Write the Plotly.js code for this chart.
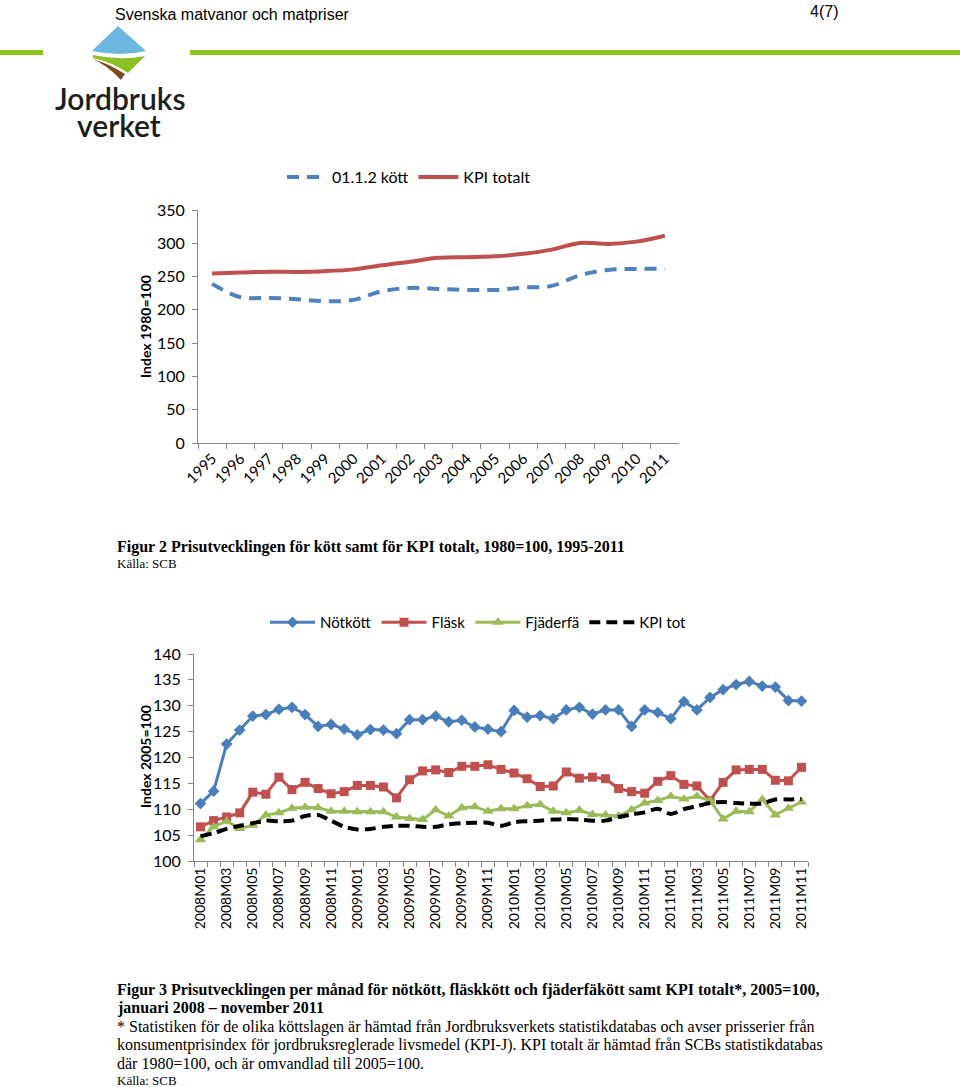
<!DOCTYPE html>
<html>
<head>
<meta charset="utf-8">
<script src="https://cdn.plot.ly/plotly-3.0.1.min.js"></script>
<style>
html,body{margin:0;padding:0;background:#fff;}
#chart{width:960px;height:1087px;}
</style>
</head>
<body>
<div id="chart"></div>
<script>
// ---------- Figure 2 data (1980=100) ----------
const years = ['1995','1996','1997','1998','1999','2000','2001','2002','2003','2004','2005','2006','2007','2008','2009','2010','2011'];
const kott = [239,219,218,216,213,215,228,233,231.5,230,230,233.5,236,252,260,261.5,261.5];
const kpiTotalt = [254.8,256.0,257.3,257.0,258.1,260.8,267.1,272.4,278.1,279.2,280.4,284.2,290.5,300.5,299.0,302.5,311.4];

// ---------- Figure 3 data (2005=100) ----------
const months = ['2008M01','2008M02','2008M03','2008M04','2008M05','2008M06','2008M07','2008M08','2008M09','2008M10','2008M11','2008M12',
 '2009M01','2009M02','2009M03','2009M04','2009M05','2009M06','2009M07','2009M08','2009M09','2009M10','2009M11','2009M12',
 '2010M01','2010M02','2010M03','2010M04','2010M05','2010M06','2010M07','2010M08','2010M09','2010M10','2010M11','2010M12',
 '2011M01','2011M02','2011M03','2011M04','2011M05','2011M06','2011M07','2011M08','2011M09','2011M10','2011M11'];
const monthTickText = ['2008M01','','2008M03','','2008M05','','2008M07','','2008M09','','2008M11','',
 '2009M01','','2009M03','','2009M05','','2009M07','','2009M09','','2009M11','',
 '2010M01','','2010M03','','2010M05','','2010M07','','2010M09','','2010M11','',
 '2011M01','','2011M03','','2011M05','','2011M07','','2011M09','','2011M11'];
const notkott = [111.1,113.5,122.6,125.3,128.0,128.3,129.3,129.7,128.3,126.0,126.4,125.5,
 124.4,125.4,125.3,124.6,127.3,127.3,128.0,126.9,127.2,125.9,125.5,125.0,
 129.1,127.8,128.1,127.5,129.2,129.7,128.4,129.2,129.2,126.0,129.2,128.7,
 127.5,130.8,129.2,131.6,133.1,134.1,134.7,133.8,133.6,131.0,130.9];
const flask = [106.6,107.8,108.5,109.3,113.3,112.9,116.2,113.8,115.2,114.0,113.0,113.4,
 114.6,114.6,114.3,112.2,115.7,117.4,117.6,117.1,118.3,118.3,118.6,117.7,
 117.0,115.9,114.4,114.5,117.2,116.0,116.2,115.9,114.0,113.4,113.1,115.4,
 116.5,114.8,114.5,111.7,115.2,117.6,117.7,117.7,115.6,115.5,118.1];
const fjaderfa = [104.1,106.6,107.7,106.3,106.9,108.9,109.3,110.2,110.4,110.3,109.6,109.6,
 109.5,109.5,109.5,108.5,108.2,108.0,109.9,108.7,110.3,110.5,109.6,110.1,
 110.1,110.7,110.9,109.6,109.3,109.8,109.0,108.9,108.7,109.9,111.2,111.7,
 112.5,112.0,112.5,111.7,108.1,109.6,109.5,111.9,108.9,110.2,111.4];
const kpiTot = [104.8,105.4,106.2,106.8,107.3,107.8,107.7,107.8,108.7,108.9,107.8,106.6,
 106.1,106.2,106.6,106.8,106.8,106.6,106.6,107.1,107.3,107.4,107.4,106.8,
 107.5,107.7,107.8,108.0,108.1,108.0,107.8,107.8,108.5,109.0,109.4,110.1,
 109.1,110.0,110.6,111.2,111.4,111.2,111.1,111.1,111.9,111.9,112.0];

// ---------- helpers: pixel -> paper ----------
const W = 960, H = 1087;
const px = x => x / W;
const py = y => 1 - y / H;
const path = s => s.replace(/(-?\d+\.?\d*),(-?\d+\.?\d*)/g, (m, a, b) => px(+a).toFixed(5) + ',' + py(+b).toFixed(5));

const sans = 'Lato, "Open Sans", sans-serif';
const serif = '"Liberation Serif", "DejaVu Serif", serif';
const axisGray = '#868686';

const traces = [
  {x: years, y: kott, name: '01.1.2 kött', type: 'scatter', mode: 'lines', xaxis: 'x', yaxis: 'y', legend: 'legend',
   line: {color: '#4F81BD', width: 4, dash: '12px,8px', shape: 'spline', smoothing: 1}},
  {x: years, y: kpiTotalt, name: 'KPI totalt', type: 'scatter', mode: 'lines', xaxis: 'x', yaxis: 'y', legend: 'legend',
   line: {color: '#C0504D', width: 4, shape: 'spline', smoothing: 1}},
  {x: months, y: notkott, name: 'Nötkött', type: 'scatter', mode: 'lines+markers', xaxis: 'x2', yaxis: 'y2', legend: 'legend2',
   line: {color: '#4A7EBB', width: 3}, marker: {symbol: 'diamond', size: 9, color: '#4A7EBB'}},
  {x: months, y: flask, name: 'Fläsk', type: 'scatter', mode: 'lines+markers', xaxis: 'x2', yaxis: 'y2', legend: 'legend2',
   line: {color: '#C0504D', width: 3}, marker: {symbol: 'square', size: 9, color: '#C0504D'}},
  {x: months, y: fjaderfa, name: 'Fjäderfä', type: 'scatter', mode: 'lines+markers', xaxis: 'x2', yaxis: 'y2', legend: 'legend2',
   line: {color: '#9BBB59', width: 3}, marker: {symbol: 'triangle-up', size: 10, color: '#9BBB59'}},
  {x: months, y: kpiTot, name: 'KPI tot', type: 'scatter', mode: 'lines', xaxis: 'x2', yaxis: 'y2', legend: 'legend2',
   line: {color: '#000000', width: 4, dash: '11px,6px', shape: 'spline', smoothing: 0.8}}
];

const axCommon = {
  showline: true, linecolor: axisGray, linewidth: 1, ticks: 'outside', ticklen: 5, tickcolor: axisGray,
  showgrid: false, zeroline: false, fixedrange: true, tickfont: {family: sans, size: 16, color: '#000'}
};

const ann = (x, y, text, size, family, extra) => Object.assign({
  xref: 'paper', yref: 'paper', x: px(x), y: py(y), text: text, showarrow: false,
  xanchor: 'left', yanchor: 'middle', font: {family: family, size: size, color: '#000'}
}, extra || {});

const layout = {
  width: W, height: H,
  margin: {l: 0, r: 0, t: 0, b: 0},
  paper_bgcolor: '#fff', plot_bgcolor: 'rgba(0,0,0,0)',
  xaxis: Object.assign({}, axCommon, {domain: [px(198), px(679)], anchor: 'y', type: 'category',
    range: [-0.5, 16.5], tickson: 'boundaries', tickangle: -45, tickfont: {family: sans, size: 15, color: '#000'}}),
  yaxis: Object.assign({}, axCommon, {domain: [py(443), py(210)], anchor: 'x', range: [0, 350], dtick: 50, ticklabelstandoff: 4}),
  xaxis2: Object.assign({}, axCommon, {domain: [px(194), px(808)], anchor: 'y2', type: 'category',
    range: [-0.5, 46.5], tickson: 'boundaries', tickmode: 'array', tickvals: months, ticktext: monthTickText,
    tickangle: -90, tickfont: {family: sans, size: 14, color: '#000'}}),
  yaxis2: Object.assign({}, axCommon, {domain: [py(861), py(654)], anchor: 'x2', range: [100, 140], dtick: 5, ticklabelstandoff: 4}),
  legend: {orientation: 'h', x: px(282), xanchor: 'left', y: py(160), yanchor: 'top', itemwidth: 40,
    font: {family: sans, size: 16, color: '#000'}, bgcolor: 'rgba(0,0,0,0)', itemclick: false},
  legend2: {orientation: 'h', x: px(265), xanchor: 'left', y: py(606), yanchor: 'top', itemwidth: 45,
    font: {family: sans, size: 15, color: '#000'}, bgcolor: 'rgba(0,0,0,0)', itemclick: false},
  annotations: [
    ann(113, 14, 'Svenska matvanor och matpriser', 16, '"Liberation Sans", Arial, sans-serif'),
    ann(808, 12, '4(7)', 16, '"Liberation Sans", Arial, sans-serif'),
    ann(120, 98, 'Jordbruks', 30, sans, {xanchor: 'center', font: {family: sans, size: 30, color: '#1d1d1b', weight: 600}}),
    ann(119, 125, 'verket', 30, sans, {xanchor: 'center', font: {family: sans, size: 30, color: '#1d1d1b', weight: 600}}),
    ann(145, 327, '<b>Index 1980=100</b>', 14, sans, {xanchor: 'center', textangle: -90}),
    ann(145, 757, '<b>Index 2005=100</b>', 14, sans, {xanchor: 'center', textangle: -90}),
    ann(115, 547, '<b>Figur 2 Prisutvecklingen för kött samt för KPI totalt, 1980=100, 1995-2011</b>', 16, serif),
    ann(115, 563, 'Källa: SCB', 13, serif),
    ann(115, 990, '<b>Figur 3 Prisutvecklingen per månad för nötkött, fläskkött och fjäderfäkött samt KPI totalt*, 2005=100,</b>', 16, serif),
    ann(115, 1008, '<b>januari 2008 – november 2011</b>', 16, serif),
    ann(115, 1027, '* Statistiken för de olika köttslagen är hämtad från Jordbruksverkets statistikdatabas och avser prisserier från', 16, serif),
    ann(115, 1045, 'konsumentprisindex för jordbruksreglerade livsmedel (KPI-J). KPI totalt är hämtad från SCBs statistikdatabas', 16, serif),
    ann(115, 1063, 'där 1980=100, och är omvandlad till 2005=100.', 16, serif),
    ann(115, 1080, 'Källa: SCB', 13, serif)
  ],
  shapes: [
    {type: 'rect', xref: 'paper', yref: 'paper', x0: px(0), x1: px(43), y0: py(55), y1: py(50), fillcolor: '#8DC21F', line: {width: 0}},
    {type: 'rect', xref: 'paper', yref: 'paper', x0: px(190), x1: px(960), y0: py(55), y1: py(50), fillcolor: '#8DC21F', line: {width: 0}},
    {type: 'path', xref: 'paper', yref: 'paper', path: path('M118,26 L146,51 Q120,57 92,51 Z'), fillcolor: '#6CB6E2', line: {width: 0}},
    {type: 'path', xref: 'paper', yref: 'paper', path: path('M93,55 Q120,61 145,56 L128,73 Q112,62 93,58 Z'), fillcolor: '#8CBF26', line: {width: 0}},
    {type: 'path', xref: 'paper', yref: 'paper', path: path('M92,59 Q110,64 125,74 L121,80 Q106,64 92,59 Z'), fillcolor: '#7B4A1F', line: {width: 0}}
  ]
};

Plotly.newPlot('chart', traces, layout, {displayModeBar: false, staticPlot: true});
</script>
</body>
</html>
